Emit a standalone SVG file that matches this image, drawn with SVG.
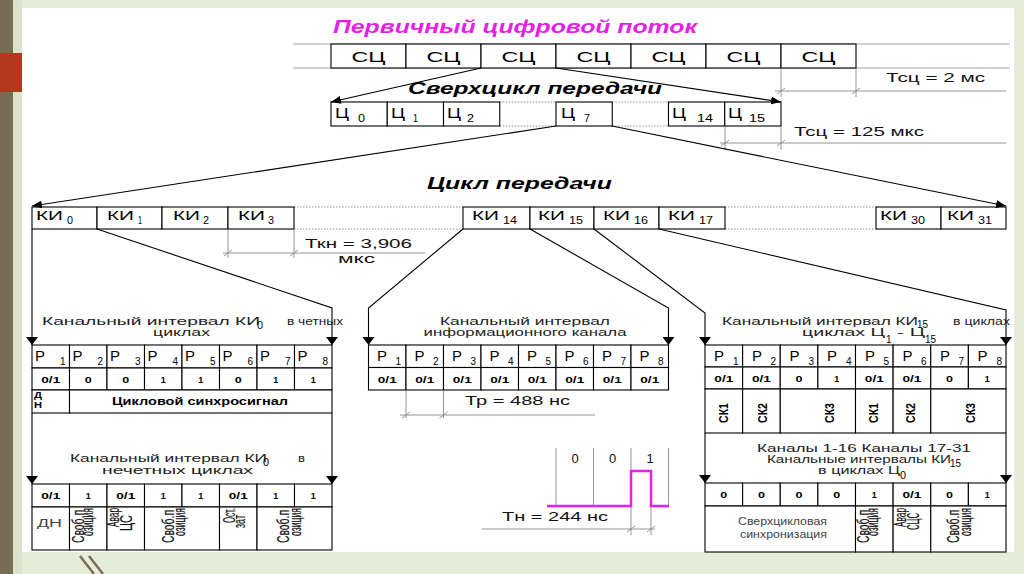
<svg xmlns="http://www.w3.org/2000/svg" width="1024" height="574" viewBox="0 0 1024 574">
<defs>
<style>
text{font-family:"Liberation Sans",Arial,sans-serif;fill:#000}
.bx{fill:#fff;stroke:#000;stroke-width:1.1}
.ln{fill:none;stroke:#000;stroke-width:1.1}
.gl{stroke:#9a9a9a;stroke-width:0.9}
.dot{stroke:#888;stroke-width:0.9;stroke-dasharray:1.5 1.5}
.dim{fill:none;stroke:#8a8a8a;stroke-width:0.9}
.ttl{font-weight:bold;font-style:italic;font-size:18px}
.hd{font-weight:bold;font-style:italic;font-size:17px}
.sc{font-size:14px;text-anchor:middle}
.big{font-size:14px}
.ki{font-size:13px}
.sub{font-size:10px}
.v{font-size:9.5px;font-weight:bold;text-anchor:middle}
.cap{font-size:11.5px;fill:#222}
.capm{font-size:11.5px;fill:#222;text-anchor:middle}
.dt{font-size:13px;fill:#111}
.rot{font-family:"Liberation Sans",Arial,sans-serif;font-size:16px;text-anchor:end;fill:#111;stroke:#111;stroke-width:0.2}
.rotb{font-family:"Liberation Sans",Arial,sans-serif;font-size:13px;font-weight:bold;text-anchor:middle}
.lt{font-size:10px;fill:#444}
</style>
<marker id="ah" viewBox="0 0 10 8" refX="10" refY="4" markerWidth="10" markerHeight="8" markerUnits="userSpaceOnUse" orient="auto"><path d="M0,0 L10,4 L0,8 z" fill="#000"/></marker>
<marker id="tri" viewBox="0 0 8 12" refX="8" refY="6" markerWidth="8" markerHeight="12" markerUnits="userSpaceOnUse" orient="auto"><path d="M0,0 L8,6 L0,12 z" fill="#000"/></marker>
</defs>

<g id="background">
<rect width="1024" height="574" fill="#e6ecd7"/>
<rect x="0" y="0" width="13" height="574" fill="#776d55"/>
<rect x="13" y="0" width="9" height="574" fill="#dce2cb"/>
<rect x="0" y="53" width="22" height="39" fill="#b3391d"/>
<rect x="22" y="8" width="992" height="544" fill="#fff"/>
<path d="M80 556 L94 574 M89 556 L103 574" stroke="#7a705a" stroke-width="2.5" fill="none"/>
</g>

<g id="title-primary">
<text x="333" y="33" class="ttl" style="fill:#e61ee6" textLength="364" lengthAdjust="spacingAndGlyphs">Первичный цифровой поток</text>
</g>

<g id="sc-row">
<line x1="293" y1="44" x2="1010" y2="44" class="gl"/>
<line x1="293" y1="68" x2="1010" y2="68" class="gl"/>
<rect x="331" y="44" width="75" height="24" class="bx"/>
<rect x="406" y="44" width="75" height="24" class="bx"/>
<rect x="481" y="44" width="75" height="24" class="bx"/>
<rect x="556" y="44" width="75" height="24" class="bx"/>
<rect x="631" y="44" width="75" height="24" class="bx"/>
<rect x="706" y="44" width="75" height="24" class="bx"/>
<rect x="781" y="44" width="75" height="24" class="bx"/>
<text x="368.5" y="62" class="sc" textLength="34" lengthAdjust="spacingAndGlyphs">СЦ</text>
<text x="443.5" y="62" class="sc" textLength="34" lengthAdjust="spacingAndGlyphs">СЦ</text>
<text x="518.5" y="62" class="sc" textLength="34" lengthAdjust="spacingAndGlyphs">СЦ</text>
<text x="593.5" y="62" class="sc" textLength="34" lengthAdjust="spacingAndGlyphs">СЦ</text>
<text x="668.5" y="62" class="sc" textLength="34" lengthAdjust="spacingAndGlyphs">СЦ</text>
<text x="743.5" y="62" class="sc" textLength="34" lengthAdjust="spacingAndGlyphs">СЦ</text>
<text x="818.5" y="62" class="sc" textLength="34" lengthAdjust="spacingAndGlyphs">СЦ</text>
</g>

<g id="title-supercycle">
<text x="408" y="94" class="hd" textLength="254" lengthAdjust="spacingAndGlyphs">Сверхцикл передачи</text>
</g>

<g id="c-row">
<line x1="499.75" y1="102" x2="556" y2="102" class="dot"/>
<line x1="499.75" y1="126" x2="556" y2="126" class="dot"/>
<line x1="612.25" y1="102" x2="668.5" y2="102" class="dot"/>
<line x1="612.25" y1="126" x2="668.5" y2="126" class="dot"/>
<rect x="331" y="102" width="56.25" height="24" class="bx"/>
<rect x="387.25" y="102" width="56.25" height="24" class="bx"/>
<rect x="443.5" y="102" width="56.25" height="24" class="bx"/>
<rect x="556" y="102" width="56.25" height="24" class="bx"/>
<rect x="668.5" y="102" width="56.25" height="24" class="bx"/>
<rect x="724.75" y="102" width="56.25" height="24" class="bx"/>
<text x="335" y="118" class="big" font-size="15" textLength="14" lengthAdjust="spacingAndGlyphs">Ц</text><text x="358" y="122" class="sub" textLength="7" lengthAdjust="spacingAndGlyphs">0</text>
<text x="391" y="118" class="big" font-size="15" textLength="14" lengthAdjust="spacingAndGlyphs">Ц</text><text x="413" y="122" class="sub" textLength="5" lengthAdjust="spacingAndGlyphs">1</text>
<text x="447" y="118" class="big" font-size="15" textLength="14" lengthAdjust="spacingAndGlyphs">Ц</text><text x="467" y="122" class="sub" textLength="7" lengthAdjust="spacingAndGlyphs">2</text>
<text x="561" y="118" class="big" font-size="15" textLength="14" lengthAdjust="spacingAndGlyphs">Ц</text><text x="584" y="122" class="sub" textLength="6" lengthAdjust="spacingAndGlyphs">7</text>
<text x="672" y="118" class="big" font-size="15" textLength="14" lengthAdjust="spacingAndGlyphs">Ц</text><text x="697" y="122" class="sub" textLength="16" lengthAdjust="spacingAndGlyphs">14</text>
<text x="728" y="118" class="big" font-size="15" textLength="14" lengthAdjust="spacingAndGlyphs">Ц</text><text x="749" y="122" class="sub" textLength="16" lengthAdjust="spacingAndGlyphs">15</text>
</g>

<g id="dim-tsc2">
<path d="M781 68 V97 M856 68 V97 M775 91 H1006" class="dim"/>
<path d="M777 94 L785 88 M852 94 L860 88" class="dim"/>
<text x="886" y="82" class="dt" textLength="99" lengthAdjust="spacingAndGlyphs">Тсц = 2 мс</text>
</g>

<g id="dim-tsc125">
<path d="M725 126 V150 M781 126 V150 M720 143 H1006" class="dim"/>
<path d="M721 146 L729 140 M777 146 L785 140" class="dim"/>
<text x="794" y="136" class="dt" textLength="130" lengthAdjust="spacingAndGlyphs">Тсц = 125 мкс</text>
</g>

<g id="title-cycle">
<text x="427" y="189" class="hd" textLength="185" lengthAdjust="spacingAndGlyphs">Цикл передачи</text>
</g>

<g id="ki-row">
<line x1="294" y1="207" x2="463" y2="207" class="dot"/>
<line x1="294" y1="229" x2="463" y2="229" class="dot"/>
<line x1="725" y1="207" x2="876" y2="207" class="dot"/>
<line x1="725" y1="229" x2="876" y2="229" class="dot"/>
<rect x="32" y="207" width="65" height="22" class="bx"/>
<rect x="97" y="207" width="65" height="22" class="bx"/>
<rect x="162" y="207" width="66" height="22" class="bx"/>
<rect x="228" y="207" width="66" height="22" class="bx"/>
<rect x="463" y="207" width="67" height="22" class="bx"/>
<rect x="530" y="207" width="64" height="22" class="bx"/>
<rect x="594" y="207" width="65" height="22" class="bx"/>
<rect x="659" y="207" width="66" height="22" class="bx"/>
<rect x="876" y="207" width="65" height="22" class="bx"/>
<rect x="941" y="207" width="65" height="22" class="bx"/>
<text x="36" y="220" class="ki" textLength="27" lengthAdjust="spacingAndGlyphs">КИ</text><text x="67" y="224" class="sub" textLength="6" lengthAdjust="spacingAndGlyphs">0</text>
<text x="107" y="220" class="ki" textLength="27" lengthAdjust="spacingAndGlyphs">КИ</text><text x="138" y="224" class="sub" textLength="4" lengthAdjust="spacingAndGlyphs">1</text>
<text x="173" y="220" class="ki" textLength="27" lengthAdjust="spacingAndGlyphs">КИ</text><text x="203" y="224" class="sub" textLength="6" lengthAdjust="spacingAndGlyphs">2</text>
<text x="238" y="220" class="ki" textLength="27" lengthAdjust="spacingAndGlyphs">КИ</text><text x="268" y="224" class="sub" textLength="6" lengthAdjust="spacingAndGlyphs">3</text>
<text x="472" y="220" class="ki" textLength="27" lengthAdjust="spacingAndGlyphs">КИ</text><text x="503" y="224" class="sub" textLength="14" lengthAdjust="spacingAndGlyphs">14</text>
<text x="538" y="220" class="ki" textLength="27" lengthAdjust="spacingAndGlyphs">КИ</text><text x="569" y="224" class="sub" textLength="14" lengthAdjust="spacingAndGlyphs">15</text>
<text x="603" y="220" class="ki" textLength="27" lengthAdjust="spacingAndGlyphs">КИ</text><text x="634" y="224" class="sub" textLength="14" lengthAdjust="spacingAndGlyphs">16</text>
<text x="668" y="220" class="ki" textLength="27" lengthAdjust="spacingAndGlyphs">КИ</text><text x="699" y="224" class="sub" textLength="14" lengthAdjust="spacingAndGlyphs">17</text>
<text x="880" y="220" class="ki" textLength="27" lengthAdjust="spacingAndGlyphs">КИ</text><text x="911" y="224" class="sub" textLength="14" lengthAdjust="spacingAndGlyphs">30</text>
<text x="947" y="220" class="ki" textLength="27" lengthAdjust="spacingAndGlyphs">КИ</text><text x="978" y="224" class="sub" textLength="14" lengthAdjust="spacingAndGlyphs">31</text>
</g>

<g id="dim-tkn">
<path d="M228 229 V258 M294 229 V258 M223 253 H425" class="dim"/>
<path d="M224 256 L232 250 M290 256 L298 250" class="dim"/>
<text x="305" y="248" class="dt" textLength="107" lengthAdjust="spacingAndGlyphs">Ткн = 3,906</text>
<text x="338" y="263" class="dt" font-size="11" textLength="37" lengthAdjust="spacingAndGlyphs">мкс</text>
</g>

<g id="panel-even">
<text x="42" y="325" class="cap" textLength="218" lengthAdjust="spacingAndGlyphs">Канальный интервал КИ</text><text x="257" y="329" class="sub" font-size="8" textLength="6" lengthAdjust="spacingAndGlyphs">0</text>
<text x="287" y="325" class="cap" textLength="56" lengthAdjust="spacingAndGlyphs">в четных</text>
<text x="181.5" y="336" class="capm" textLength="57" lengthAdjust="spacingAndGlyphs">циклах</text>
<rect x="32" y="345" width="37.5" height="23" class="bx"/><rect x="69.5" y="345" width="37.5" height="23" class="bx"/><rect x="107" y="345" width="37.5" height="23" class="bx"/><rect x="144.5" y="345" width="37.5" height="23" class="bx"/><rect x="182" y="345" width="37.5" height="23" class="bx"/><rect x="219.5" y="345" width="37.5" height="23" class="bx"/><rect x="257" y="345" width="37.5" height="23" class="bx"/><rect x="294.5" y="345" width="37.5" height="23" class="bx"/>
<rect x="32" y="368" width="37.5" height="22" class="bx"/><rect x="69.5" y="368" width="37.5" height="22" class="bx"/><rect x="107" y="368" width="37.5" height="22" class="bx"/><rect x="144.5" y="368" width="37.5" height="22" class="bx"/><rect x="182" y="368" width="37.5" height="22" class="bx"/><rect x="219.5" y="368" width="37.5" height="22" class="bx"/><rect x="257" y="368" width="37.5" height="22" class="bx"/><rect x="294.5" y="368" width="37.5" height="22" class="bx"/>
<rect x="32" y="390" width="37.5" height="23" class="bx"/><rect x="69.5" y="390" width="262.5" height="23" class="bx"/>
<text x="35" y="361" class="big" textLength="10" lengthAdjust="spacingAndGlyphs">Р</text><text x="65.5" y="365" class="sub" text-anchor="end">1</text>
<text x="72.5" y="361" class="big" textLength="10" lengthAdjust="spacingAndGlyphs">Р</text><text x="103" y="365" class="sub" text-anchor="end">2</text>
<text x="110" y="361" class="big" textLength="10" lengthAdjust="spacingAndGlyphs">Р</text><text x="140.5" y="365" class="sub" text-anchor="end">3</text>
<text x="147.5" y="361" class="big" textLength="10" lengthAdjust="spacingAndGlyphs">Р</text><text x="178" y="365" class="sub" text-anchor="end">4</text>
<text x="185" y="361" class="big" textLength="10" lengthAdjust="spacingAndGlyphs">Р</text><text x="215.5" y="365" class="sub" text-anchor="end">5</text>
<text x="222.5" y="361" class="big" textLength="10" lengthAdjust="spacingAndGlyphs">Р</text><text x="253" y="365" class="sub" text-anchor="end">6</text>
<text x="260" y="361" class="big" textLength="10" lengthAdjust="spacingAndGlyphs">Р</text><text x="290.5" y="365" class="sub" text-anchor="end">7</text>
<text x="297.5" y="361" class="big" textLength="10" lengthAdjust="spacingAndGlyphs">Р</text><text x="328" y="365" class="sub" text-anchor="end">8</text>
<text x="50.75" y="383" class="v" textLength="19" lengthAdjust="spacingAndGlyphs">0/1</text>
<text x="88.25" y="383" class="v" textLength="7" lengthAdjust="spacingAndGlyphs">0</text>
<text x="125.75" y="383" class="v" textLength="7" lengthAdjust="spacingAndGlyphs">0</text>
<text x="163.25" y="383" class="v" textLength="5" lengthAdjust="spacingAndGlyphs">1</text>
<text x="200.75" y="383" class="v" textLength="5" lengthAdjust="spacingAndGlyphs">1</text>
<text x="238.25" y="383" class="v" textLength="7" lengthAdjust="spacingAndGlyphs">0</text>
<text x="275.75" y="383" class="v" textLength="5" lengthAdjust="spacingAndGlyphs">1</text>
<text x="313.25" y="383" class="v" textLength="5" lengthAdjust="spacingAndGlyphs">1</text>
<text x="34" y="398" font-size="8.5" font-weight="bold" textLength="8" lengthAdjust="spacingAndGlyphs">Д</text>
<text x="34" y="407.5" font-size="8.5" font-weight="bold" textLength="8" lengthAdjust="spacingAndGlyphs">Н</text>
<text x="112" y="405" font-size="10" font-weight="bold" textLength="176" lengthAdjust="spacingAndGlyphs">Цикловой синхросигнал</text>
</g>

<g id="panel-odd">
<text x="70" y="462" class="cap" textLength="197" lengthAdjust="spacingAndGlyphs">Канальный интервал КИ</text><text x="263" y="466" class="sub" font-size="8" textLength="6" lengthAdjust="spacingAndGlyphs">0</text>
<text x="298" y="462" class="cap" textLength="7" lengthAdjust="spacingAndGlyphs">в</text>
<text x="177.5" y="474" class="capm" textLength="151" lengthAdjust="spacingAndGlyphs">нечетных циклах</text>
<rect x="32" y="484" width="37.5" height="23" class="bx"/><rect x="69.5" y="484" width="37.5" height="23" class="bx"/><rect x="107" y="484" width="37.5" height="23" class="bx"/><rect x="144.5" y="484" width="37.5" height="23" class="bx"/><rect x="182" y="484" width="37.5" height="23" class="bx"/><rect x="219.5" y="484" width="37.5" height="23" class="bx"/><rect x="257" y="484" width="37.5" height="23" class="bx"/><rect x="294.5" y="484" width="37.5" height="23" class="bx"/>
<rect x="32" y="507" width="37.5" height="43" class="bx"/><rect x="69.5" y="507" width="37.5" height="43" class="bx"/><rect x="107" y="507" width="37.5" height="43" class="bx"/><rect x="144.5" y="507" width="75" height="43" class="bx"/><rect x="219.5" y="507" width="37.5" height="43" class="bx"/><rect x="257" y="507" width="75" height="43" class="bx"/>
<text x="50.75" y="499" class="v" textLength="19" lengthAdjust="spacingAndGlyphs">0/1</text>
<text x="88.25" y="499" class="v" textLength="5" lengthAdjust="spacingAndGlyphs">1</text>
<text x="125.75" y="499" class="v" textLength="19" lengthAdjust="spacingAndGlyphs">0/1</text>
<text x="163.25" y="499" class="v" textLength="5" lengthAdjust="spacingAndGlyphs">1</text>
<text x="200.75" y="499" class="v" textLength="5" lengthAdjust="spacingAndGlyphs">1</text>
<text x="238.25" y="499" class="v" textLength="19" lengthAdjust="spacingAndGlyphs">0/1</text>
<text x="275.75" y="499" class="v" textLength="5" lengthAdjust="spacingAndGlyphs">1</text>
<text x="313.25" y="499" class="v" textLength="5" lengthAdjust="spacingAndGlyphs">1</text>
<text x="37" y="527" class="lt" font-size="11" textLength="25" lengthAdjust="spacingAndGlyphs">ДН</text>
<text class="rot" transform="translate(83.5,510) rotate(-90)" textLength="33" lengthAdjust="spacingAndGlyphs">Своб.п</text>
<text class="rot" transform="translate(93.3,508) rotate(-90)" textLength="28" lengthAdjust="spacingAndGlyphs">озиция</text>
<text class="rot" transform="translate(119,508) rotate(-90)" textLength="19" lengthAdjust="spacingAndGlyphs">Авар</text>
<text class="rot" transform="translate(131.5,515) rotate(-90)" textLength="16" lengthAdjust="spacingAndGlyphs">ЦС</text>
<text class="rot" transform="translate(173.5,510) rotate(-90)" textLength="33" lengthAdjust="spacingAndGlyphs">Своб.п</text>
<text class="rot" transform="translate(185.3,508) rotate(-90)" textLength="28" lengthAdjust="spacingAndGlyphs">озиция</text>
<text class="rot" transform="translate(234.5,508) rotate(-90)" textLength="15" lengthAdjust="spacingAndGlyphs">Ост.</text>
<text class="rot" transform="translate(245.3,515) rotate(-90)" textLength="13" lengthAdjust="spacingAndGlyphs">зат</text>
<text class="rot" transform="translate(288.5,510) rotate(-90)" textLength="33" lengthAdjust="spacingAndGlyphs">Своб.п</text>
<text class="rot" transform="translate(301.3,508) rotate(-90)" textLength="28" lengthAdjust="spacingAndGlyphs">озиция</text>
</g>

<g id="panel-info">
<text x="525" y="325" class="capm" textLength="170" lengthAdjust="spacingAndGlyphs">Канальный интервал</text>
<text x="525" y="336" class="capm" textLength="203" lengthAdjust="spacingAndGlyphs">информационного канала</text>
<rect x="368.5" y="345" width="37.5" height="22.5" class="bx"/><rect x="406" y="345" width="37.5" height="22.5" class="bx"/><rect x="443.5" y="345" width="37.5" height="22.5" class="bx"/><rect x="481" y="345" width="37.5" height="22.5" class="bx"/><rect x="518.5" y="345" width="37.5" height="22.5" class="bx"/><rect x="556" y="345" width="37.5" height="22.5" class="bx"/><rect x="593.5" y="345" width="37.5" height="22.5" class="bx"/><rect x="631" y="345" width="37.5" height="22.5" class="bx"/>
<rect x="368.5" y="367.5" width="37.5" height="22.5" class="bx"/><rect x="406" y="367.5" width="37.5" height="22.5" class="bx"/><rect x="443.5" y="367.5" width="37.5" height="22.5" class="bx"/><rect x="481" y="367.5" width="37.5" height="22.5" class="bx"/><rect x="518.5" y="367.5" width="37.5" height="22.5" class="bx"/><rect x="556" y="367.5" width="37.5" height="22.5" class="bx"/><rect x="593.5" y="367.5" width="37.5" height="22.5" class="bx"/><rect x="631" y="367.5" width="37.5" height="22.5" class="bx"/>
<text x="377" y="361" class="big" textLength="10" lengthAdjust="spacingAndGlyphs">Р</text><text x="401" y="365" class="sub" text-anchor="end">1</text>
<text x="414.5" y="361" class="big" textLength="10" lengthAdjust="spacingAndGlyphs">Р</text><text x="438.5" y="365" class="sub" text-anchor="end">2</text>
<text x="452" y="361" class="big" textLength="10" lengthAdjust="spacingAndGlyphs">Р</text><text x="476" y="365" class="sub" text-anchor="end">3</text>
<text x="489.5" y="361" class="big" textLength="10" lengthAdjust="spacingAndGlyphs">Р</text><text x="513.5" y="365" class="sub" text-anchor="end">4</text>
<text x="527" y="361" class="big" textLength="10" lengthAdjust="spacingAndGlyphs">Р</text><text x="551" y="365" class="sub" text-anchor="end">5</text>
<text x="564.5" y="361" class="big" textLength="10" lengthAdjust="spacingAndGlyphs">Р</text><text x="588.5" y="365" class="sub" text-anchor="end">6</text>
<text x="602" y="361" class="big" textLength="10" lengthAdjust="spacingAndGlyphs">Р</text><text x="626" y="365" class="sub" text-anchor="end">7</text>
<text x="639.5" y="361" class="big" textLength="10" lengthAdjust="spacingAndGlyphs">Р</text><text x="663.5" y="365" class="sub" text-anchor="end">8</text>
<text x="387.25" y="383" class="v" textLength="19" lengthAdjust="spacingAndGlyphs">0/1</text>
<text x="424.75" y="383" class="v" textLength="19" lengthAdjust="spacingAndGlyphs">0/1</text>
<text x="462.25" y="383" class="v" textLength="19" lengthAdjust="spacingAndGlyphs">0/1</text>
<text x="499.75" y="383" class="v" textLength="19" lengthAdjust="spacingAndGlyphs">0/1</text>
<text x="537.25" y="383" class="v" textLength="19" lengthAdjust="spacingAndGlyphs">0/1</text>
<text x="574.75" y="383" class="v" textLength="19" lengthAdjust="spacingAndGlyphs">0/1</text>
<text x="612.25" y="383" class="v" textLength="19" lengthAdjust="spacingAndGlyphs">0/1</text>
<text x="649.75" y="383" class="v" textLength="19" lengthAdjust="spacingAndGlyphs">0/1</text>
</g>

<g id="dim-tr">
<path d="M406 390 V418 M443.5 390 V418 M400 415 H595" class="dim"/>
<path d="M402 418 L410 412 M439.5 418 L447.5 412" class="dim"/>
<text x="465" y="405" class="dt" textLength="105" lengthAdjust="spacingAndGlyphs">Тр = 488 нс</text>
</g>

<g id="pulse">
<path d="M556 448 V506 M593.5 448 V506 M631 448 V535 M651 506 V535 M668.5 448 V506" class="dim"/>
<text x="575" y="463" class="dt" text-anchor="middle">0</text>
<text x="612.5" y="463" class="dt" text-anchor="middle">0</text>
<text x="650" y="463" class="dt" text-anchor="middle">1</text>
<path d="M547 506 H631 V471 H651 V506 H669" fill="none" stroke="#e61ee6" stroke-width="2.5"/>
<path d="M482 529 H655" class="dim"/>
<path d="M627 532 L635 526 M647 532 L655 526" class="dim"/>
<text x="502" y="521" class="dt" textLength="106" lengthAdjust="spacingAndGlyphs">Тн = 244 нс</text>
</g>

<g id="panel-ki16">
<text x="722" y="325" class="cap" textLength="196" lengthAdjust="spacingAndGlyphs">Канальный интервал КИ</text><text x="917" y="328" class="sub" font-size="8" textLength="11" lengthAdjust="spacingAndGlyphs">15</text>
<text x="953" y="325" class="cap" textLength="57" lengthAdjust="spacingAndGlyphs">в циклах</text>
<text x="802" y="336" class="cap" textLength="83" lengthAdjust="spacingAndGlyphs">циклах Ц</text><text x="886" y="343" class="sub" font-size="8">1</text>
<text x="897" y="336" class="cap" textLength="28" lengthAdjust="spacingAndGlyphs">- Ц</text><text x="925" y="343" class="sub" font-size="8" textLength="11" lengthAdjust="spacingAndGlyphs">15</text>
<rect x="705" y="345" width="37.625" height="22" class="bx"/><rect x="742.625" y="345" width="37.625" height="22" class="bx"/><rect x="780.25" y="345" width="37.625" height="22" class="bx"/><rect x="817.875" y="345" width="37.625" height="22" class="bx"/><rect x="855.5" y="345" width="37.625" height="22" class="bx"/><rect x="893.125" y="345" width="37.625" height="22" class="bx"/><rect x="930.75" y="345" width="37.625" height="22" class="bx"/><rect x="968.375" y="345" width="37.625" height="22" class="bx"/>
<rect x="705" y="367" width="37.625" height="22" class="bx"/><rect x="742.625" y="367" width="37.625" height="22" class="bx"/><rect x="780.25" y="367" width="37.625" height="22" class="bx"/><rect x="817.875" y="367" width="37.625" height="22" class="bx"/><rect x="855.5" y="367" width="37.625" height="22" class="bx"/><rect x="893.125" y="367" width="37.625" height="22" class="bx"/><rect x="930.75" y="367" width="37.625" height="22" class="bx"/><rect x="968.375" y="367" width="37.625" height="22" class="bx"/>
<rect x="705" y="389" width="37.625" height="44" class="bx"/><rect x="742.625" y="389" width="37.625" height="44" class="bx"/><rect x="780.25" y="389" width="75.25" height="44" class="bx"/><rect x="855.5" y="389" width="37.625" height="44" class="bx"/><rect x="893.125" y="389" width="37.625" height="44" class="bx"/><rect x="930.75" y="389" width="75.25" height="44" class="bx"/>
<text x="714" y="361" class="big" textLength="10" lengthAdjust="spacingAndGlyphs">Р</text><text x="738.5" y="365" class="sub" text-anchor="end">1</text>
<text x="752" y="361" class="big" textLength="10" lengthAdjust="spacingAndGlyphs">Р</text><text x="776" y="365" class="sub" text-anchor="end">2</text>
<text x="789.5" y="361" class="big" textLength="10" lengthAdjust="spacingAndGlyphs">Р</text><text x="814" y="365" class="sub" text-anchor="end">3</text>
<text x="827" y="361" class="big" textLength="10" lengthAdjust="spacingAndGlyphs">Р</text><text x="851.5" y="365" class="sub" text-anchor="end">4</text>
<text x="865" y="361" class="big" textLength="10" lengthAdjust="spacingAndGlyphs">Р</text><text x="889" y="365" class="sub" text-anchor="end">5</text>
<text x="902.5" y="361" class="big" textLength="10" lengthAdjust="spacingAndGlyphs">Р</text><text x="926.5" y="365" class="sub" text-anchor="end">6</text>
<text x="940" y="361" class="big" textLength="10" lengthAdjust="spacingAndGlyphs">Р</text><text x="964" y="365" class="sub" text-anchor="end">7</text>
<text x="977.5" y="361" class="big" textLength="10" lengthAdjust="spacingAndGlyphs">Р</text><text x="1002" y="365" class="sub" text-anchor="end">8</text>
<text x="723.8" y="382" class="v" textLength="19" lengthAdjust="spacingAndGlyphs">0/1</text>
<text x="761.4" y="382" class="v" textLength="19" lengthAdjust="spacingAndGlyphs">0/1</text>
<text x="799.1" y="382" class="v" textLength="7" lengthAdjust="spacingAndGlyphs">0</text>
<text x="836.7" y="382" class="v" textLength="5" lengthAdjust="spacingAndGlyphs">1</text>
<text x="874.3" y="382" class="v" textLength="19" lengthAdjust="spacingAndGlyphs">0/1</text>
<text x="911.9" y="382" class="v" textLength="19" lengthAdjust="spacingAndGlyphs">0/1</text>
<text x="949.6" y="382" class="v" textLength="7" lengthAdjust="spacingAndGlyphs">0</text>
<text x="987.2" y="382" class="v" textLength="5" lengthAdjust="spacingAndGlyphs">1</text>
<text class="rotb" transform="translate(727.5,413) rotate(-90)" textLength="20" lengthAdjust="spacingAndGlyphs">СК1</text>
<text class="rotb" transform="translate(766.5,413) rotate(-90)" textLength="20" lengthAdjust="spacingAndGlyphs">СК2</text>
<text class="rotb" transform="translate(833.5,413) rotate(-90)" textLength="20" lengthAdjust="spacingAndGlyphs">СК3</text>
<text class="rotb" transform="translate(877.5,413) rotate(-90)" textLength="20" lengthAdjust="spacingAndGlyphs">СК1</text>
<text class="rotb" transform="translate(914.5,413) rotate(-90)" textLength="20" lengthAdjust="spacingAndGlyphs">СК2</text>
<text class="rotb" transform="translate(974.5,413) rotate(-90)" textLength="20" lengthAdjust="spacingAndGlyphs">СК3</text>
</g>

<g id="panel-c0">
<text x="757" y="452" class="cap" textLength="214" lengthAdjust="spacingAndGlyphs">Каналы 1-16 Каналы 17-31</text>
<text x="767" y="463" class="cap" textLength="184" lengthAdjust="spacingAndGlyphs">Канальные интервалы КИ</text><text x="950" y="467" class="sub" font-size="8" textLength="11" lengthAdjust="spacingAndGlyphs">15</text>
<text x="818" y="474" class="cap" textLength="82" lengthAdjust="spacingAndGlyphs">в циклах Ц</text><text x="900" y="479" class="sub" font-size="9" textLength="6" lengthAdjust="spacingAndGlyphs">0</text>
<rect x="705" y="483" width="37.625" height="23" class="bx"/><rect x="742.625" y="483" width="37.625" height="23" class="bx"/><rect x="780.25" y="483" width="37.625" height="23" class="bx"/><rect x="817.875" y="483" width="37.625" height="23" class="bx"/><rect x="855.5" y="483" width="37.625" height="23" class="bx"/><rect x="893.125" y="483" width="37.625" height="23" class="bx"/><rect x="930.75" y="483" width="37.625" height="23" class="bx"/><rect x="968.375" y="483" width="37.625" height="23" class="bx"/>
<rect x="705" y="506" width="150.5" height="46" class="bx"/><rect x="855.5" y="506" width="37.625" height="46" class="bx"/><rect x="893.125" y="506" width="37.625" height="46" class="bx"/><rect x="930.75" y="506" width="75.25" height="46" class="bx"/>
<text x="723.8" y="498" class="v" textLength="7" lengthAdjust="spacingAndGlyphs">0</text>
<text x="761.4" y="498" class="v" textLength="7" lengthAdjust="spacingAndGlyphs">0</text>
<text x="799.1" y="498" class="v" textLength="7" lengthAdjust="spacingAndGlyphs">0</text>
<text x="836.7" y="498" class="v" textLength="7" lengthAdjust="spacingAndGlyphs">0</text>
<text x="874.3" y="498" class="v" textLength="5" lengthAdjust="spacingAndGlyphs">1</text>
<text x="911.9" y="498" class="v" textLength="19" lengthAdjust="spacingAndGlyphs">0/1</text>
<text x="949.6" y="498" class="v" textLength="7" lengthAdjust="spacingAndGlyphs">0</text>
<text x="987.2" y="498" class="v" textLength="5" lengthAdjust="spacingAndGlyphs">1</text>
<text x="738" y="525" class="lt" textLength="89" lengthAdjust="spacingAndGlyphs">Сверхцикловая</text>
<text x="740" y="537.5" class="lt" textLength="87" lengthAdjust="spacingAndGlyphs">синхронизация</text>
<text class="rot" transform="translate(868.5,510) rotate(-90)" textLength="33" lengthAdjust="spacingAndGlyphs">Своб.п</text>
<text class="rot" transform="translate(878.3,508) rotate(-90)" textLength="28" lengthAdjust="spacingAndGlyphs">озиция</text>
<text class="rot" transform="translate(905.5,508) rotate(-90)" textLength="19" lengthAdjust="spacingAndGlyphs">Авар</text>
<text class="rot" transform="translate(918.5,513) rotate(-90)" textLength="17" lengthAdjust="spacingAndGlyphs">СЦС</text>
<text class="rot" transform="translate(958.5,510) rotate(-90)" textLength="33" lengthAdjust="spacingAndGlyphs">Своб.п</text>
<text class="rot" transform="translate(971.3,508) rotate(-90)" textLength="28" lengthAdjust="spacingAndGlyphs">озиция</text>
</g>

<g id="connectors" class="ln">
<path d="M481 68 L331 102" marker-end="url(#ah)"/>
<path d="M556 68 L781 102" marker-end="url(#ah)"/>
<path d="M556 126 L32 206" marker-end="url(#ah)"/>
<path d="M612 126 L1006 206" marker-end="url(#ah)"/>
<path d="M32 229 V345" marker-end="url(#tri)"/>
<path d="M97 229 L332 308 V345" marker-end="url(#tri)"/>
<path d="M463 229 L368.5 308 V345" marker-end="url(#tri)"/>
<path d="M530 229 L668.5 308 V345" marker-end="url(#tri)"/>
<path d="M594 229 L705 313 V345" marker-end="url(#tri)"/>
<path d="M659 229 L1006 310 V345" marker-end="url(#tri)"/>
<path d="M32 413 V484" marker-end="url(#tri)"/>
<path d="M332 413 V484" marker-end="url(#tri)"/>
<path d="M705 433 V483" marker-end="url(#tri)"/>
<path d="M1006 433 V483" marker-end="url(#tri)"/>
</g>
</svg>
